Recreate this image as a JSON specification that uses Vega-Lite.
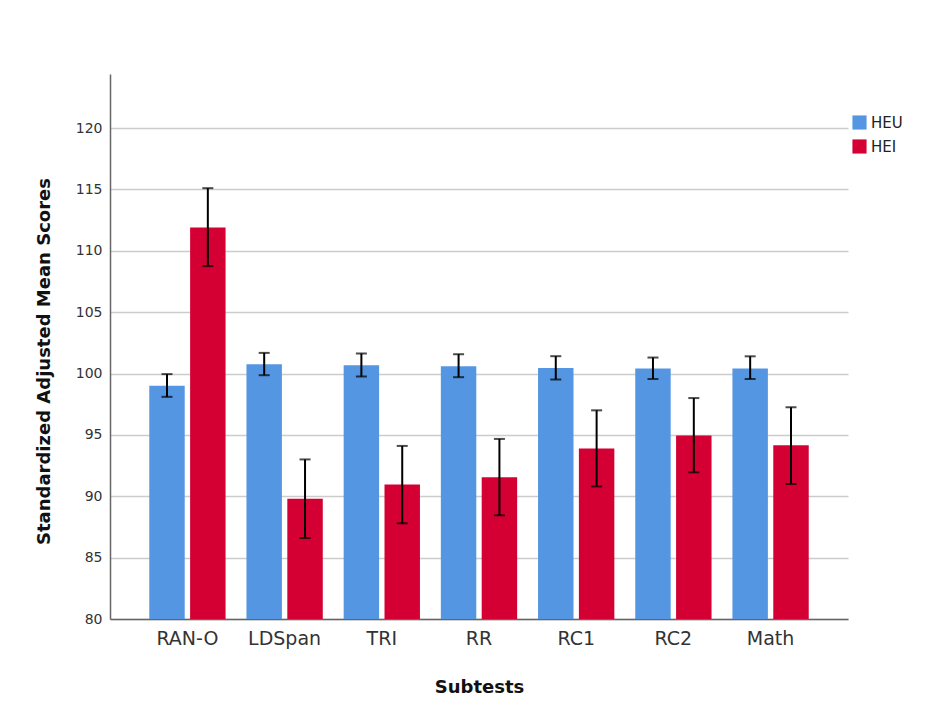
{
  "$schema": "https://vega.github.io/schema/vega-lite/v6.json",
  "autosize": {"type": "none"},
  "width": 738,
  "height": 545,
  "padding": {"left": 110, "top": 74, "right": 102, "bottom": 83},
  "background": "white",
  "config": {
    "view": {"stroke": null},
    "font": "DejaVu Sans"
  },
  "data": {
    "values": [
      {"subtest": "RAN-O", "group": "HEU", "mean": 99.0, "lo": 98.1, "hi": 99.95},
      {"subtest": "RAN-O", "group": "HEI", "mean": 111.9, "lo": 108.75, "hi": 115.1},
      {"subtest": "LDSpan", "group": "HEU", "mean": 100.76, "lo": 99.86, "hi": 101.68},
      {"subtest": "LDSpan", "group": "HEI", "mean": 89.8, "lo": 86.6, "hi": 93.0},
      {"subtest": "TRI", "group": "HEU", "mean": 100.68, "lo": 99.75, "hi": 101.63},
      {"subtest": "TRI", "group": "HEI", "mean": 90.95, "lo": 87.8, "hi": 94.1},
      {"subtest": "RR", "group": "HEU", "mean": 100.6, "lo": 99.7, "hi": 101.57},
      {"subtest": "RR", "group": "HEI", "mean": 91.55, "lo": 88.45, "hi": 94.67},
      {"subtest": "RC1", "group": "HEU", "mean": 100.45, "lo": 99.51, "hi": 101.41},
      {"subtest": "RC1", "group": "HEI", "mean": 93.9, "lo": 90.8, "hi": 97.0},
      {"subtest": "RC2", "group": "HEU", "mean": 100.4, "lo": 99.55, "hi": 101.3},
      {"subtest": "RC2", "group": "HEI", "mean": 94.95, "lo": 91.95, "hi": 98.0},
      {"subtest": "Math", "group": "HEU", "mean": 100.4, "lo": 99.55, "hi": 101.4},
      {"subtest": "Math", "group": "HEI", "mean": 94.15, "lo": 91.0, "hi": 97.25}
    ]
  },
  "encoding": {
    "x": {
      "field": "subtest",
      "type": "nominal",
      "sort": ["RAN-O", "LDSpan", "TRI", "RR", "RC1", "RC2", "Math"],
      "scale": {"paddingInner": 0.215, "paddingOuter": 0.404},
      "axis": {
        "title": "Subtests",
        "titleFont": "DejaVu Sans",
        "titleFontSize": 18,
        "titleFontWeight": "bold",
        "titleColor": "#111111",
        "titlePadding": 30,
        "labelAngle": 0,
        "labelFontSize": 19,
        "labelColor": "#333333",
        "labelPadding": 10,
        "ticks": false,
        "domainColor": "#666666",
        "domainWidth": 1.5
      }
    },
    "xOffset": {
      "field": "group",
      "type": "nominal",
      "sort": ["HEU", "HEI"],
      "scale": {"paddingInner": 0.132}
    }
  },
  "layer": [
    {
      "mark": {"type": "bar"},
      "encoding": {
        "y": {
          "field": "mean",
          "type": "quantitative",
          "scale": {"domain": [80, 124.4], "nice": false, "zero": false},
          "axis": {
            "title": "Standardized Adjusted Mean Scores",
            "titleFont": "DejaVu Sans",
            "titleFontSize": 18,
            "titleFontWeight": "bold",
            "titleColor": "#111111",
            "titleX": -66,
            "titleY": 287,
            "titleBaseline": "middle",
            "values": [80, 85, 90, 95, 100, 105, 110, 115, 120],
            "labelFontSize": 14,
            "labelColor": "#333333",
            "labelPadding": 8,
            "ticks": false,
            "grid": true,
            "gridColor": "#cccccc",
            "gridWidth": 1.5,
            "domainColor": "#666666",
            "domainWidth": 1.5
          }
        },
        "y2": {"datum": 80},
        "color": {
          "field": "group",
          "type": "nominal",
          "sort": ["HEU", "HEI"],
          "scale": {"domain": ["HEU", "HEI"], "range": ["#5596E3", "#D40033"]},
          "legend": {
            "title": null,
            "orient": "none",
            "legendX": 742,
            "legendY": 41,
            "symbolType": "square",
            "symbolSize": 200,
            "symbolStrokeWidth": 0,
            "labelFontSize": 15,
            "labelColor": "#222222",
            "rowPadding": 8
          }
        }
      }
    },
    {
      "mark": {"type": "rule", "color": "black", "strokeWidth": 2},
      "encoding": {
        "y": {"field": "lo", "type": "quantitative"},
        "y2": {"field": "hi"}
      }
    },
    {
      "mark": {"type": "tick", "color": "black", "thickness": 2, "size": 11},
      "encoding": {
        "y": {"field": "lo", "type": "quantitative"}
      }
    },
    {
      "mark": {"type": "tick", "color": "black", "thickness": 2, "size": 11},
      "encoding": {
        "y": {"field": "hi", "type": "quantitative"}
      }
    }
  ]
}
